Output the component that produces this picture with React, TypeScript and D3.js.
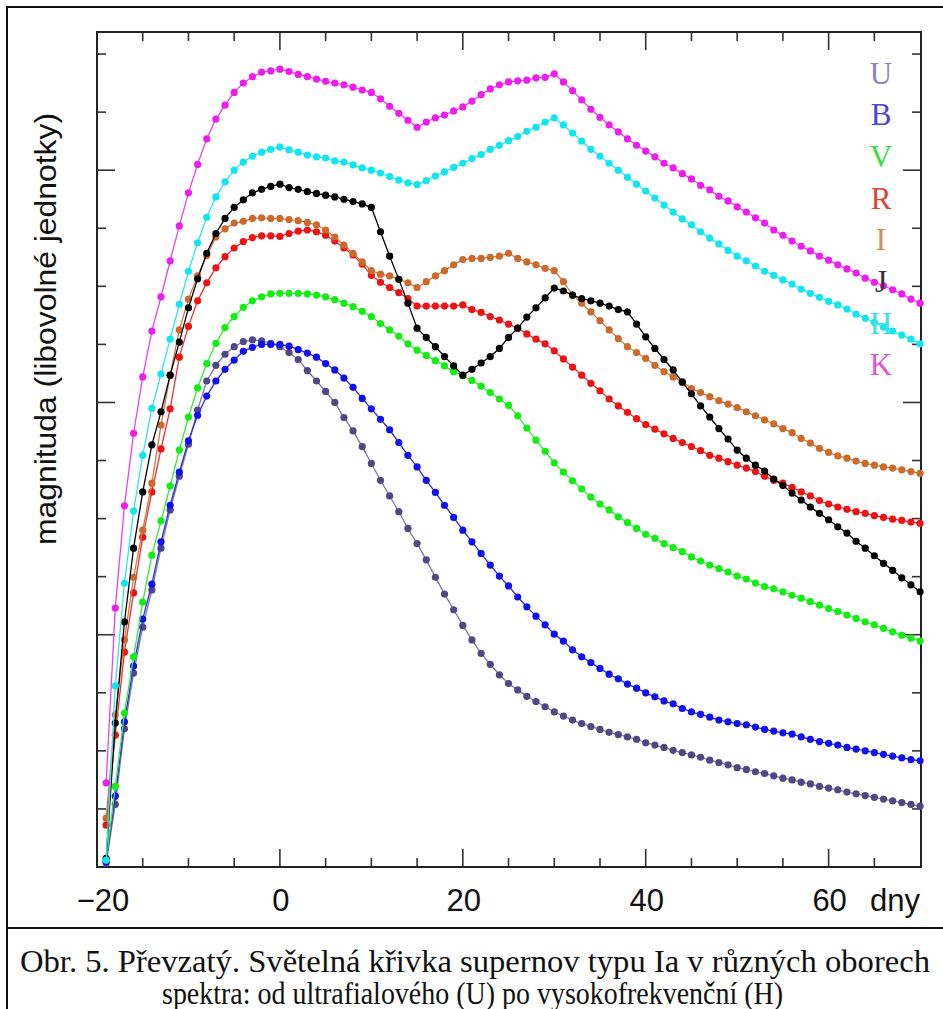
import React, { useRef, useEffect } from "react";
import { select, scaleLinear, line, range } from "d3";

// days since maximum, one observation per day
const days = range(-19, 71);

// relative brightness, one value per day from -19 to 70 (arbitrary units)
const U = [
  0.07, 1.08, 2.38, 3.34, 4.13, 4.77, 5.49, 6.15, 6.73, 7.28, 7.87, 8.37, 8.64, 8.83, 8.96, 9.05, 9.08, 9.06, 9.02, 8.96,
  8.86, 8.74, 8.55, 8.37, 8.19, 8.0, 7.74, 7.51, 7.24, 6.95,
  6.66, 6.39, 6.12, 5.83, 5.57, 5.29, 4.99, 4.7, 4.43, 4.16,
  3.91, 3.68, 3.49, 3.31, 3.16, 3.05, 2.94, 2.85, 2.76, 2.67,
  2.6, 2.53, 2.47, 2.42, 2.37, 2.32, 2.28, 2.24, 2.2, 2.14,
  2.1, 2.06, 2.01, 1.97, 1.93, 1.89, 1.84, 1.8, 1.76, 1.71,
  1.68, 1.64, 1.61, 1.57, 1.53, 1.5, 1.46, 1.43, 1.39, 1.36,
  1.33, 1.29, 1.26, 1.23, 1.2, 1.17, 1.14, 1.11, 1.08, 1.05,
];
const B = [
  0.09, 1.22, 2.5, 3.46, 4.27, 4.87, 5.6, 6.23, 6.8, 7.34, 7.78, 8.11, 8.37, 8.57, 8.73, 8.88, 8.95, 9.0, 9.0, 9.0,
  8.97, 8.91, 8.85, 8.78, 8.67, 8.56, 8.42, 8.26, 8.07, 7.89,
  7.71, 7.53, 7.31, 7.09, 6.89, 6.66, 6.45, 6.23, 6.02, 5.8,
  5.6, 5.4, 5.2, 5.01, 4.84, 4.65, 4.48, 4.32, 4.17, 4.01,
  3.89, 3.74, 3.62, 3.52, 3.42, 3.32, 3.24, 3.15, 3.08, 3.0,
  2.93, 2.86, 2.81, 2.73, 2.67, 2.63, 2.58, 2.53, 2.5, 2.47,
  2.45, 2.41, 2.37, 2.34, 2.31, 2.29, 2.24, 2.2, 2.16, 2.13,
  2.1, 2.06, 2.03, 2.0, 1.97, 1.94, 1.91, 1.88, 1.85, 1.83,
];
const V = [
  0.12, 1.39, 2.65, 3.62, 4.56, 5.37, 5.96, 6.56, 7.18, 7.75, 8.25, 8.67, 9.02, 9.29, 9.48, 9.64, 9.75, 9.82, 9.87, 9.88,
  9.88, 9.88, 9.87, 9.85, 9.82, 9.77, 9.71, 9.65, 9.57, 9.48,
  9.36, 9.25, 9.14, 9.01, 8.9, 8.81, 8.72, 8.63, 8.53, 8.46,
  8.38, 8.28, 8.17, 8.06, 7.95, 7.77, 7.56, 7.35, 7.16, 6.96,
  6.8, 6.65, 6.51, 6.37, 6.25, 6.15, 6.03, 5.93, 5.83, 5.73,
  5.66, 5.57, 5.5, 5.43, 5.34, 5.27, 5.2, 5.14, 5.08, 5.01,
  4.96, 4.89, 4.83, 4.79, 4.74, 4.68, 4.63, 4.57, 4.51, 4.45,
  4.4, 4.34, 4.28, 4.22, 4.17, 4.11, 4.05, 3.99, 3.94, 3.89,
];
const R = [
  0.72, 2.27, 3.7, 4.72, 5.68, 6.46, 7.2, 7.89, 8.78, 9.31, 9.75, 10.06, 10.32, 10.51, 10.66, 10.77, 10.84, 10.87, 10.87, 10.86,
  10.91, 10.95, 10.97, 10.94, 10.88, 10.78, 10.66, 10.54, 10.38, 10.19,
  10.07, 9.98, 9.89, 9.79, 9.66, 9.66, 9.66, 9.66, 9.66, 9.68,
  9.6, 9.55, 9.48, 9.42, 9.35, 9.28, 9.18, 9.09, 9.01, 8.89,
  8.75, 8.61, 8.47, 8.33, 8.2, 8.06, 7.94, 7.83, 7.72, 7.62,
  7.54, 7.46, 7.38, 7.31, 7.24, 7.17, 7.09, 7.04, 6.98, 6.92,
  6.87, 6.81, 6.73, 6.66, 6.61, 6.54, 6.46, 6.39, 6.31, 6.25,
  6.2, 6.16, 6.12, 6.09, 6.05, 6.02, 5.99, 5.97, 5.94, 5.92,
];
const I = [
  0.84, 2.62, 3.91, 4.99, 5.8, 6.61, 7.61, 8.47, 9.25, 9.78, 10.18, 10.53, 10.85, 10.99, 11.09, 11.12, 11.17, 11.18, 11.17, 11.17,
  11.15, 11.13, 11.1, 11.06, 10.97, 10.85, 10.71, 10.57, 10.42, 10.27,
  10.21, 10.18, 10.12, 10.06, 9.98, 10.08, 10.18, 10.27, 10.37, 10.46,
  10.48, 10.48, 10.5, 10.52, 10.57, 10.48, 10.42, 10.37, 10.31, 10.27,
  10.08, 9.85, 9.71, 9.56, 9.41, 9.25, 9.1, 8.96, 8.86, 8.76,
  8.64, 8.53, 8.44, 8.36, 8.24, 8.17, 8.1, 8.03, 7.97, 7.91,
  7.84, 7.77, 7.7, 7.63, 7.55, 7.48, 7.38, 7.3, 7.21, 7.14,
  7.08, 7.04, 6.99, 6.95, 6.92, 6.89, 6.87, 6.84, 6.81, 6.78,
];
const J = [
  0.15, 2.48, 4.22, 5.49, 6.46, 7.27, 7.84, 8.47, 9.04, 9.63, 10.13, 10.57, 10.91, 11.17, 11.36, 11.49, 11.61, 11.67, 11.72, 11.76,
  11.7, 11.67, 11.63, 11.6, 11.57, 11.54, 11.5, 11.46, 11.42, 11.36,
  10.94, 10.52, 10.12, 9.71, 9.28, 9.12, 8.96, 8.79, 8.63, 8.47,
  8.57, 8.68, 8.79, 8.93, 9.12, 9.28, 9.47, 9.63, 9.8, 9.97,
  9.92, 9.85, 9.79, 9.75, 9.71, 9.66, 9.6, 9.56, 9.35, 9.13,
  8.93, 8.74, 8.56, 8.35, 8.15, 7.94, 7.75, 7.55, 7.37, 7.18,
  7.04, 6.92, 6.82, 6.68, 6.57, 6.44, 6.32, 6.2, 6.09, 5.98,
  5.86, 5.75, 5.61, 5.49, 5.36, 5.23, 5.11, 4.98, 4.86, 4.74,
];
const H = [
  0.12, 3.12, 4.89, 6.13, 7.09, 7.9, 8.49, 9.09, 9.69, 10.26, 10.75, 11.19, 11.54, 11.8, 12.0, 12.14, 12.24, 12.31, 12.36, 12.4,
  12.35, 12.31, 12.26, 12.23, 12.21, 12.16, 12.14, 12.09, 12.04, 12.0,
  11.95, 11.89, 11.83, 11.78, 11.75, 11.82, 11.9, 11.97, 12.05, 12.12,
  12.2, 12.27, 12.36, 12.43, 12.51, 12.58, 12.67, 12.74, 12.83, 12.9,
  12.78, 12.64, 12.5, 12.36, 12.24, 12.12, 12.0, 11.88, 11.76, 11.64,
  11.52, 11.4, 11.28, 11.16, 11.06, 10.94, 10.83, 10.73, 10.62, 10.52,
  10.44, 10.35, 10.26, 10.19, 10.11, 10.04, 9.95, 9.88, 9.81, 9.74,
  9.68, 9.61, 9.52, 9.45, 9.38, 9.3, 9.23, 9.16, 9.09, 9.01,
];
const K = [
  1.45, 4.46, 6.22, 7.47, 8.44, 9.23, 9.82, 10.44, 11.04, 11.61, 12.1, 12.54, 12.88, 13.12, 13.34, 13.5, 13.61, 13.69, 13.71, 13.74,
  13.7, 13.65, 13.61, 13.57, 13.53, 13.5, 13.47, 13.43, 13.38, 13.34,
  13.23, 13.1, 12.98, 12.86, 12.74, 12.83, 12.9, 12.95, 13.02, 13.09,
  13.19, 13.3, 13.4, 13.47, 13.52, 13.54, 13.55, 13.59, 13.6, 13.66,
  13.52, 13.37, 13.21, 13.05, 12.91, 12.78, 12.66, 12.54, 12.43, 12.33,
  12.23, 12.12, 12.04, 11.94, 11.85, 11.74, 11.66, 11.55, 11.47, 11.37,
  11.28, 11.18, 11.09, 10.97, 10.88, 10.78, 10.69, 10.61, 10.52, 10.45,
  10.37, 10.3, 10.23, 10.14, 10.07, 10.01, 9.94, 9.87, 9.78, 9.71,
];

const bands = ["U", "B", "V", "R", "I", "J", "H", "K"];
const bandValues = [U, B, V, R, I, J, H, K];
const bandColors = ["#524685", "#1010ee", "#12ee12", "#ee1212", "#cc6a2c", "#000000", "#10e6ee", "#ee1cee"];
const lineColors = ["#8078a8", "#2a2af0", "#30ee30", "#ee3030", "#cc7a44", "#000000", "#30e6ee", "#ee40ee"];
const legendColors = ["#8c82bc", "#4646dc", "#3cdc3c", "#dc4438", "#d08c5a", "#333333", "#3ce0e8", "#d858d8"];

const xTicks = [-20, 0, 20, 40, 60];
const xTickLabels = ["\u221220", "0", "20", "40", "60"];
const xMinorTicks = range(-15, 70, 5);
const yMinorTicks = range(1, 15);
const yMajorTicks = [4, 8, 12];
const xUnit = "dny";
const yTitle = "magnituda (libovolné jednotky)";
const caption = [
  "Obr. 5. Převzatý. Světelná křivka supernov typu Ia v různých oborech",
  "spektra: od ultrafialového (U) po vysokofrekvenční (H)",
];

const App = () => {
  const ref = useRef(null);
  const width = 943;
  const height = 1009;

  useEffect(() => {
    const svg = select(ref.current);
    svg.selectAll("*").remove();

    const xScale = scaleLinear().domain([-20, 70.1]).range([97, 921]);
    const yScale = scaleLinear().domain([0, 14.38]).range([867, 32]);
    const [x0, x1] = xScale.range();
    const [yb, yt] = yScale.range();

    svg.append("rect").attr("width", width).attr("height", height).attr("fill", "#fff");

    // outer figure frame + caption separator
    svg.append("rect")
      .attr("x", 7).attr("y", 7)
      .attr("width", width + 20).attr("height", height + 20)
      .attr("fill", "none").attr("stroke", "#111").attr("stroke-width", 2);
    svg.append("line")
      .attr("x1", 7).attr("x2", width).attr("y1", 928).attr("y2", 928)
      .attr("stroke", "#111").attr("stroke-width", 2);

    // caption
    svg.append("text")
      .attr("x", 20)
      .attr("y", 972)
      .attr("textLength", 910)
      .attr("lengthAdjust", "spacingAndGlyphs")
      .style("font-family", "'Liberation Serif', serif")
      .style("font-size", "31px")
      .attr("fill", "#111")
      .text(caption[0]);

    svg.append("text")
      .attr("x", 162)
      .attr("y", 1004)
      .attr("textLength", 621)
      .attr("lengthAdjust", "spacingAndGlyphs")
      .style("font-family", "'Liberation Serif', serif")
      .style("font-size", "31px")
      .attr("fill", "#111")
      .text(caption[1]);

    const g = svg.append("g");

    // ticks
    const tick = (x1_, y1_, x2_, y2_) =>
      g.append("line")
        .attr("x1", x1_).attr("y1", y1_).attr("x2", x2_).attr("y2", y2_)
        .attr("stroke", "#333").attr("stroke-width", 1.6);

    xMinorTicks.forEach((t) => {
      const len = t % 20 === 0 ? 18 : 9;
      tick(xScale(t), yt, xScale(t), yt + len);
      tick(xScale(t), yb, xScale(t), yb - len);
    });
    yMinorTicks.forEach((t) => {
      const len = yMajorTicks.includes(t) ? 18 : 9;
      tick(x0, yScale(t), x0 + len, yScale(t));
      tick(x1, yScale(t), x1 - len, yScale(t));
    });

    // frame
    g.append("rect")
      .attr("x", x0).attr("y", yt)
      .attr("width", x1 - x0).attr("height", yb - yt)
      .attr("fill", "none").attr("stroke", "#222").attr("stroke-width", 2);

    // x tick labels
    g.selectAll("text.xt")
      .data(xTicks)
      .enter()
      .append("text")
      .attr("class", "xt")
      .attr("x", (d) => xScale(d) + (d < 0 ? 6 : 1))
      .attr("y", 911)
      .attr("text-anchor", "middle")
      .style("font-family", "'Liberation Sans', Arial, sans-serif")
      .style("font-size", "31px")
      .attr("fill", "#111")
      .text((d, i) => xTickLabels[i]);

    g.append("text")
      .attr("x", 895).attr("y", 911)
      .attr("text-anchor", "middle")
      .style("font-family", "'Liberation Sans', Arial, sans-serif")
      .style("font-size", "31px")
      .attr("fill", "#111")
      .text(xUnit);

    // y title
    g.append("text")
      .attr("transform", "translate(56, 329) rotate(-90)")
      .attr("text-anchor", "middle")
      .attr("textLength", 432)
      .attr("lengthAdjust", "spacingAndGlyphs")
      .style("font-family", "'Liberation Sans', Arial, sans-serif")
      .style("font-size", "29px")
      .attr("fill", "#111")
      .text(yTitle);

    // light curves
    const lineGenerator = line()
      .x((d) => xScale(d[0]))
      .y((d) => yScale(d[1]));

    bandValues.forEach((vals, i) => {
      const pts = days.map((d, k) => [d, vals[k]]);
      g.append("path")
        .datum(pts)
        .attr("fill", "none")
        .attr("stroke", lineColors[i])
        .attr("stroke-width", 1.3)
        .attr("d", lineGenerator);
      g.selectAll(`circle.b${i}`)
        .data(pts)
        .enter()
        .append("circle")
        .attr("class", `b${i}`)
        .attr("cx", (d) => xScale(d[0]))
        .attr("cy", (d) => yScale(d[1]))
        .attr("r", 3.6)
        .attr("fill", bandColors[i]);
    });

    // band legend
    g.selectAll("text.band")
      .data(bands)
      .enter()
      .append("text")
      .attr("class", "band")
      .attr("x", 881)
      .attr("y", (d, i) => 83.5 + i * 41.7)
      .attr("text-anchor", "middle")
      .style("font-family", "'Liberation Serif', serif")
      .style("font-size", "31px")
      .attr("fill", (d, i) => legendColors[i])
      .text((d) => d);
  }, []);

  return (
    <svg
      ref={ref}
      width={width}
      height={height}
      style={{ position: "absolute", left: 0, top: 0 }}
    />
  );
};

export default App;
